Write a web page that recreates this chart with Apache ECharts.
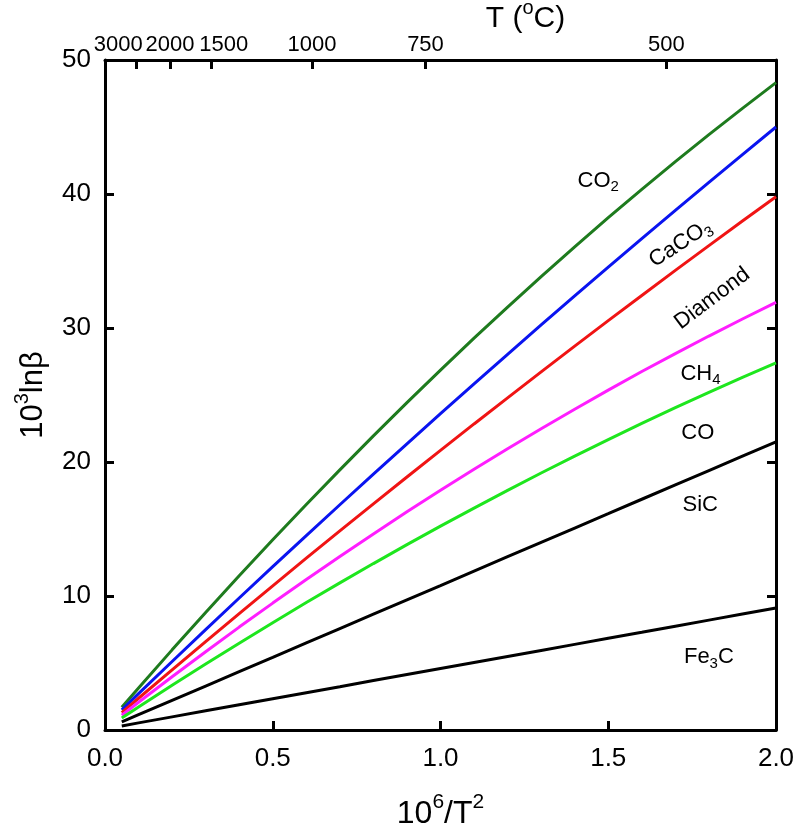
<!DOCTYPE html>
<html><head><meta charset="utf-8">
<script src="https://cdn.jsdelivr.net/npm/echarts@6/dist/echarts.min.js"></script>
<style>html,body{margin:0;padding:0;background:#fff}#c{width:797px;height:836px}</style>
</head><body><div id="c"></div>
<script>
// x = 10^6/T^2
const xValues = [0.05,0.1,0.2,0.3,0.4,0.5,0.6,0.7,0.8,0.9,1.0,1.1,1.2,1.3,1.4,1.5,1.6,1.7,1.8,1.9,2.0];
const co2     = [1.70,3.14,5.98,8.77,11.51,14.20,16.83,19.41,21.95,24.43,26.86,29.24,31.56,33.84,36.06,38.23,40.34,42.41,44.43,46.39,48.31];
const caco3   = [1.50,2.71,5.11,7.49,9.85,12.19,14.51,16.81,19.10,21.36,23.61,25.83,28.04,30.23,32.39,34.54,36.67,38.78,40.87,42.94,45.00];
const diamond = [1.30,2.37,4.49,6.60,8.69,10.76,12.82,14.86,16.88,18.88,20.87,22.84,24.79,26.73,28.65,30.55,32.43,34.30,36.15,37.98,39.80];
const ch4     = [1.10,2.07,3.97,5.84,7.68,9.47,11.23,12.95,14.63,16.28,17.89,19.46,20.99,22.48,23.94,25.36,26.75,28.09,29.40,30.67,31.91];
const co      = [0.90,1.72,3.34,4.92,6.48,8.01,9.51,10.98,12.42,13.83,15.21,16.56,17.88,19.18,20.44,21.67,22.88,24.05,25.20,26.32,27.40];
const sic     = [0.60,1.14,2.21,3.28,4.35,5.42,6.50,7.57,8.64,9.71,10.78,11.86,12.93,14.00,15.07,16.14,17.22,18.29,19.36,20.43,21.50];
const fe3c    = [0.30,0.53,0.98,1.43,1.88,2.33,2.78,3.23,3.69,4.14,4.59,5.04,5.49,5.94,6.39,6.84,7.29,7.75,8.20,8.65,9.10];
const bottomTicks = [0,0.5,1.0,1.5,2.0];
const leftTicks = [0,10,20,30,40,50];
const topTickLabels = [3000,2000,1500,1000,750,500]; // T in °C
const topTickPos = topTickLabels.map(t => 1e6 / Math.pow(t + 273.15, 2));

const FONT = 'Liberation Sans, Arial, sans-serif';
const pair = a => xValues.map((x, i) => [x, a[i]]);

function mkSeries(name, data, color, lbl) {
  return {
    name, type: 'line', data: pair(data), showSymbol: false, smooth: false,
    lineStyle: { color, width: 3 }, itemStyle: { color },
    z: 3,
    markPoint: {
      symbol: 'circle', symbolSize: 0, silent: true,
      itemStyle: { color: 'rgba(0,0,0,0)' },
      data: [{ coord: lbl.coord }],
      label: {
        show: true, position: 'inside', formatter: lbl.text, rotate: lbl.rotate || 0,
        color: '#000', fontFamily: FONT, fontSize: 22,
        rich: {
          b: { fontSize: 22, fontFamily: FONT, color: '#000', lineHeight: 28, verticalAlign: 'middle' },
          sub: { fontSize: 15, fontFamily: FONT, color: '#000', lineHeight: 14, verticalAlign: 'bottom' }
        }
      }
    }
  };
}

const chart = echarts.init(document.getElementById('c'), null, { renderer: 'canvas' });
const axisLine = { show: true, onZero: false, lineStyle: { color: '#000', width: 3 } };
const tick = { show: true, inside: true, length: 9, lineStyle: { color: '#000', width: 3 } };
function nameRich(size) {
  return {
    n: { fontSize: size, fontFamily: FONT, color: '#000', lineHeight: Math.round(size * 1.2), verticalAlign: 'bottom' },
    sup: { fontSize: Math.round(size * 0.65), fontFamily: FONT, color: '#000', verticalAlign: 'top', lineHeight: Math.round(size * 0.55) }
  };
}

chart.setOption({
  animation: false,
  backgroundColor: '#fff',
  grid: { left: 105, right: 21, top: 60, bottom: 106, containLabel: false, outerBoundsMode: 'none' },
  xAxis: [
    {
      type: 'value', min: 0, max: 2, interval: 0.5, position: 'bottom',
      axisLine, axisTick: tick, splitLine: { show: false },
      axisLabel: { color: '#000', fontSize: 26, fontFamily: FONT, margin: 16, hideOverlap: false,
        customValues: bottomTicks, formatter: v => v.toFixed(1) },
      name: '{n|10}{sup|6}{n|/T}{sup|2}', nameLocation: 'middle', nameGap: 62, nameMoveOverlap: false,
      nameTextStyle: { color: '#000', fontSize: 32, fontFamily: FONT, rich: nameRich(32) }
    },
    {
      type: 'value', min: 0, max: 2, position: 'top',
      axisLine, splitLine: { show: false },
      axisTick: Object.assign({}, tick, { customValues: topTickPos }),
      axisLabel: { color: '#000', fontSize: 22, fontFamily: FONT, margin: 4, hideOverlap: false,
        showMinLabel: true, showMaxLabel: true,
        customValues: topTickPos,
        formatter: v => {
          let best = 0, bd = 1e9;
          topTickPos.forEach((p, i) => { const d = Math.abs(p - v); if (d < bd) { bd = d; best = i; } });
          const t = topTickLabels[best];
          if (t === 3000) return '{l|' + t + '}';
          if (t === 1500) return '{r|' + t + '}';
          return String(t);
        },
        rich: {
          l: { fontSize: 22, fontFamily: FONT, color: '#000', padding: [0, 36, 0, 0] },
          r: { fontSize: 22, fontFamily: FONT, color: '#000', padding: [0, 0, 0, 24] }
        } },
      name: '{n|T (}{sup|o}{n|C)}', nameLocation: 'middle', nameGap: 26, nameMoveOverlap: false,
      nameTextStyle: { color: '#000', fontSize: 30, fontFamily: FONT, padding: [0, 0, 0, 170], rich: nameRich(30) }
    }
  ],
  yAxis: [
    {
      type: 'value', min: 0, max: 50, interval: 10, position: 'left',
      axisLine, axisTick: tick, splitLine: { show: false },
      axisLabel: { color: '#000', fontSize: 26, fontFamily: FONT, margin: 14, customValues: leftTicks },
      name: '{n|10}{sup|3}{n|ln\u03b2}', nameLocation: 'middle', nameGap: 56, nameRotate: 90, nameMoveOverlap: false,
      nameTextStyle: { color: '#000', fontSize: 31, fontFamily: FONT, rich: nameRich(31) }
    },
    {
      type: 'value', min: 0, max: 50, interval: 10, position: 'right',
      axisLine, axisTick: tick, splitLine: { show: false }, axisLabel: { show: false }
    }
  ],
  series: [
    mkSeries('CO2', co2, '#1e7b1e', { coord: [1.47, 41.0], text: '{b|CO}{sub|2}' }),
    mkSeries('CaCO3', caco3, '#0a14f0', { coord: [1.715, 36.3], text: '{b|CaCO}{sub|3}', rotate: 33 }),
    mkSeries('Diamond', diamond, '#f01414', { coord: [1.81, 32.2], text: '{b|Diamond}', rotate: 37 }),
    mkSeries('CH4', ch4, '#ff1eff', { coord: [1.775, 26.6], text: '{b|CH}{sub|4}' }),
    mkSeries('CO', co, '#1ee61e', { coord: [1.767, 22.2], text: '{b|CO}' }),
    mkSeries('SiC', sic, '#000000', { coord: [1.774, 16.8], text: '{b|SiC}' }),
    mkSeries('Fe3C', fe3c, '#000000', { coord: [1.80, 5.45], text: '{b|Fe}{sub|3}{b|C}' })
  ]
});
</script>
</body></html>
